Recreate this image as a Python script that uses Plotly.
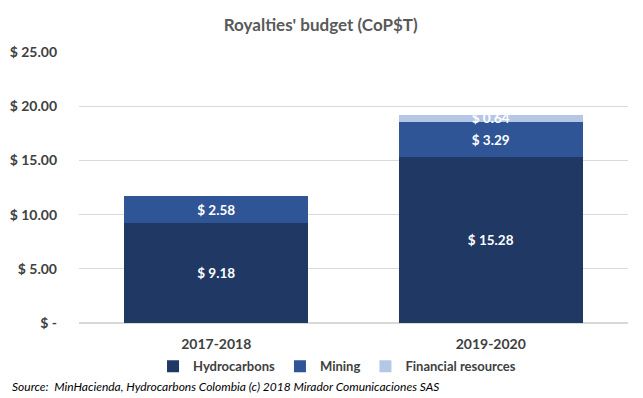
import plotly.graph_objects as go

categories = ["2017-2018", "2019-2020"]
hydrocarbons = [9.18, 15.28]
mining = [2.58, 3.29]
financial = [0.0, 0.64]
series_names = ["Hydrocarbons", "Mining", "Financial resources"]
tick_vals = [0, 5, 10, 15, 20, 25]
tick_text = ["$ -", "$ 5.00", "$ 10.00", "$ 15.00", "$ 20.00", "$ 25.00"]

colors = ["#203864", "#2F5597", "#B4C7E7"]
FONT = "Lato, Open Sans, sans-serif"

def lbl(v):
    return "" if v == 0 else f"$ {v:.2f}"

fig = go.Figure()
for name, vals, col in zip(series_names, [hydrocarbons, mining, financial], colors):
    fig.add_trace(go.Bar(
        x=categories, y=vals, name=name, marker=dict(color=col, line=dict(width=0)),
        text=[lbl(v) for v in vals], textposition="inside", insidetextanchor="middle",
        constraintext="none",
        textfont=dict(color="white", size=13.5, family=FONT, weight="bold"),
        hoverinfo="skip",
    ))

# The page body has an 8px default margin, so the figure is sized 8px smaller
fig.update_layout(
    barmode="stack", bargap=0.33,
    width=635, height=390,
    margin=dict(l=71, r=15, t=44, b=75, autoexpand=False),
    paper_bgcolor="white", plot_bgcolor="white",
    title=dict(text="Royalties' budget (CoP$T)", x=0.4924, xanchor="center", y=0.956, yanchor="middle",
               font=dict(size=17, color="#595959", family=FONT, weight="bold")),
    font=dict(family=FONT),
    showlegend=True,
    legend=dict(orientation="h", x=0.47, xanchor="center", y=-0.160, yanchor="middle",
                font=dict(size=13, color="#404040", family=FONT, weight="bold"),
                itemwidth=30, traceorder="normal"),
    xaxis=dict(showgrid=False, showline=False, ticks="", ticklabelstandoff=11,
               tickfont=dict(size=14, color="#404040", family=FONT, weight="bold")),
    yaxis=dict(range=[0, 25], tickvals=tick_vals, ticktext=tick_text,
               showgrid=True, gridcolor="#D9D9D9", gridwidth=1, zeroline=True, zerolinecolor="#D9D9D9",
               showline=False, ticks="", ticklabelstandoff=21,
               tickfont=dict(size=14, color="#404040", family=FONT, weight="bold")),
    annotations=[dict(text="Source:  MinHacienda, Hydrocarbons Colombia (c) 2018 Mirador Comunicaciones SAS",
                      xref="paper", yref="paper", x=-0.1257, y=-0.235, xanchor="left", yanchor="middle",
                      showarrow=False, font=dict(size=12, color="black", family=FONT, style="italic"))],
)

fig.write_html("out.html")
